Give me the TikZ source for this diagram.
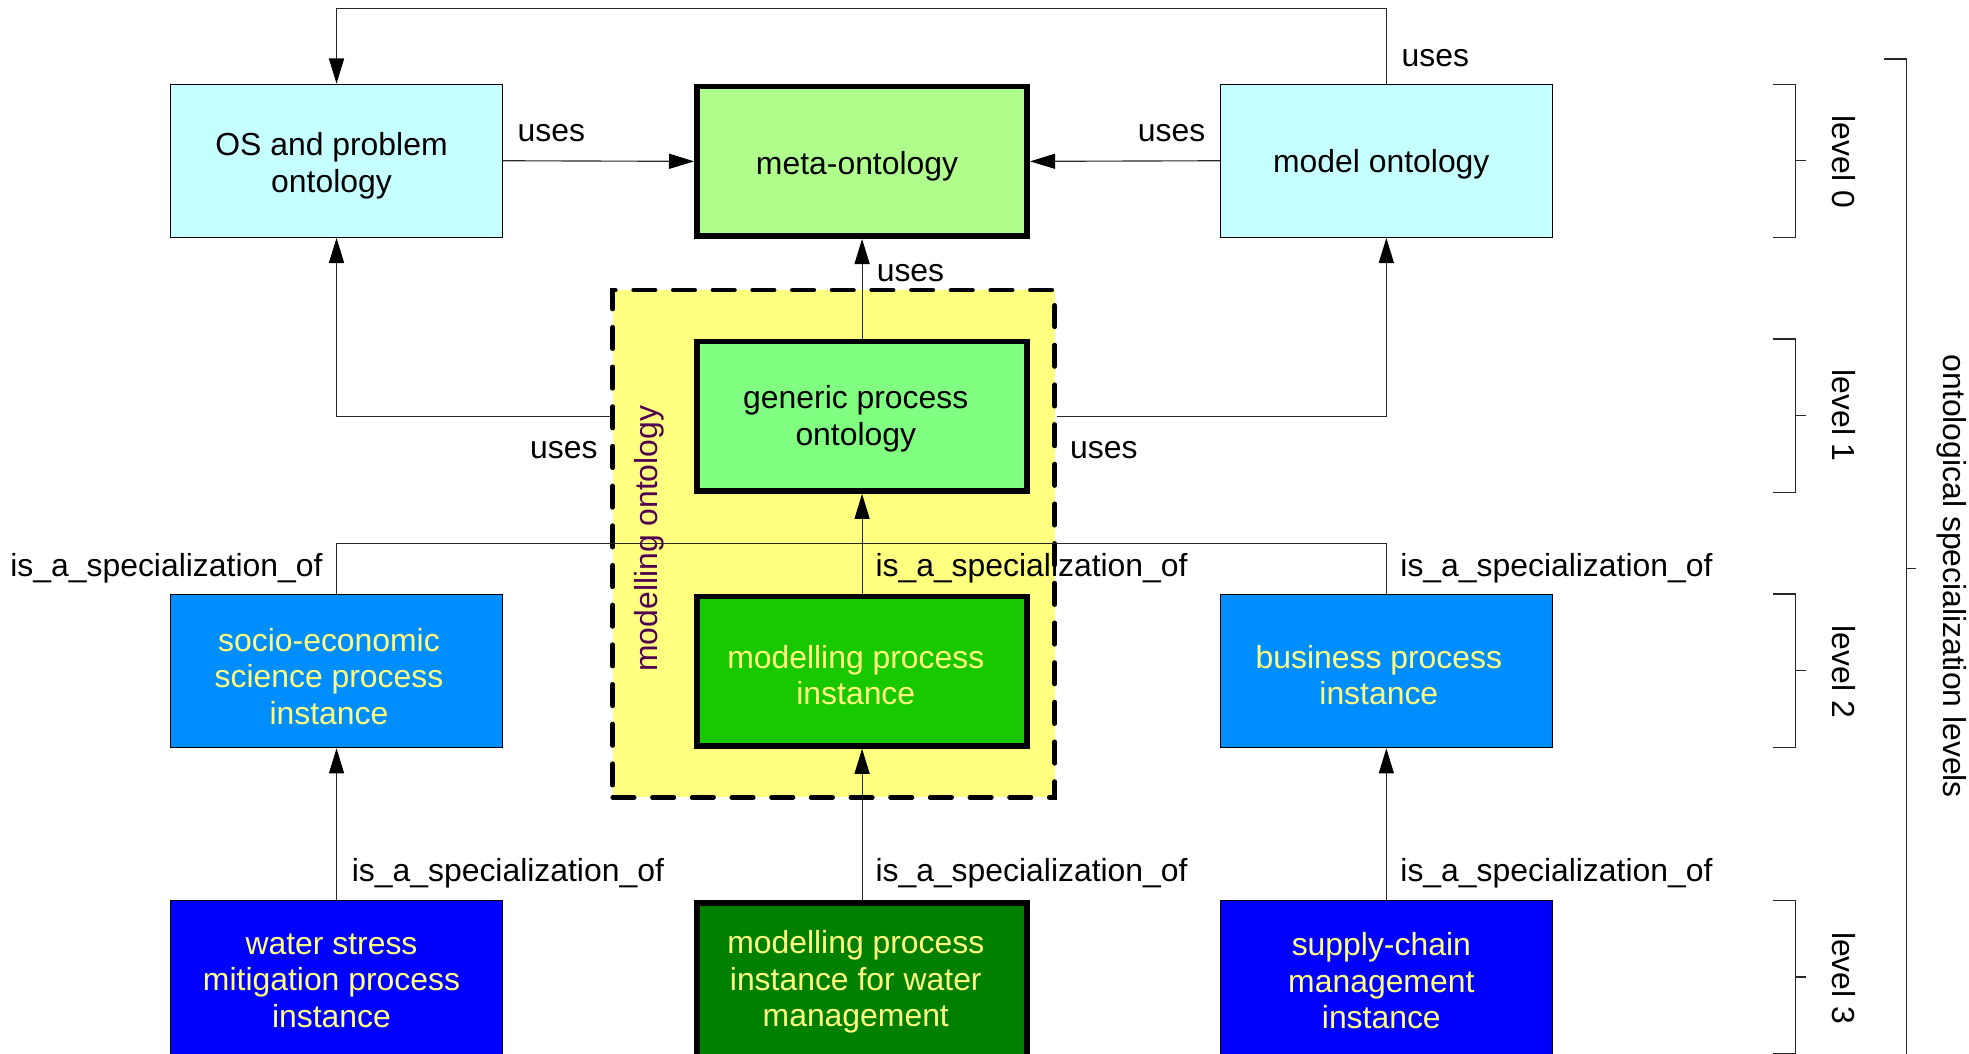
\documentclass[tikz,border=0pt]{standalone}
\usepackage{fontspec}
\setmainfont{Liberation Sans}
\usetikzlibrary{arrows.meta}

\definecolor{cyanbox}{RGB}{198,255,255}
\definecolor{metagreen}{RGB}{176,255,140}
\definecolor{genericgreen}{RGB}{128,255,128}
\definecolor{instgreen}{RGB}{24,200,0}
\definecolor{darkgreen}{RGB}{0,128,0}
\definecolor{skyblue}{RGB}{0,142,255}
\definecolor{pureblue}{RGB}{0,0,255}
\definecolor{paleyellow}{RGB}{255,255,128}
\definecolor{textyellow}{RGB}{255,255,128}
\definecolor{purpletext}{RGB}{80,0,80}
\definecolor{linegray}{RGB}{40,40,40}

\begin{document}
\begin{tikzpicture}[x=1pt,y=-1pt,
  every node/.style={font=\fontsize{25.4}{29}\selectfont},
  box/.style={draw=black, line width=0.9pt, minimum width=264pt, minimum height=122pt, inner sep=0pt},
  lowbox/.style={box, minimum height=128pt},
  heavybox/.style={draw=black, line width=4.5pt, minimum width=263pt, minimum height=119pt, inner sep=0pt},
  lowheavy/.style={heavybox, minimum height=124pt},
  txt/.style={align=center, inner sep=0pt},
  lbl/.style={inner sep=0pt},
  conn/.style={draw=linegray, line width=0.9pt},
  arr/.style={conn, -{Triangle[length=20pt,width=12pt,color=black]}},
  bracket/.style={draw=linegray, line width=0.9pt},
  groupbox/.style={draw=black, fill=paleyellow, line width=3.8pt, dash pattern=on 17pt off 14.6pt, line cap=round, inner sep=0pt}
]
\useasboundingbox (0,0) rectangle (1568,839);
\begin{scope}
\clip (0,0) rectangle (1568,839);

% modelling ontology group
\node[groupbox, minimum width=352pt, minimum height=404pt] (modont) at (664,433) {};
\node[rotate=90, text=purpletext, inner sep=0pt] (modont-t) at (517,429) {modelling ontology};

% level 0
\node[box, fill=cyanbox] (os) at (268,128) {};
\node[heavybox, fill=metagreen] (meta) at (686.5,128.5) {};
\node[box, fill=cyanbox] (model) at (1104,128) {};
% level 1
\node[heavybox, fill=genericgreen] (generic) at (686.5,331.5) {};
% level 2
\node[box, fill=skyblue] (socio) at (268,534.5) {};
\node[heavybox, fill=instgreen] (mpi) at (686.5,534.5) {};
\node[box, fill=skyblue] (business) at (1104,534.5) {};
% level 3
\node[lowbox, fill=pureblue] (water) at (268,781) {};
\node[lowheavy, fill=darkgreen] (mpiw) at (686.5,781) {};
\node[lowbox, fill=pureblue] (supply) at (1104,781) {};

% box texts
\node[txt] (os-t) at ([shift={(-4pt,-4pt)}]os.center) {OS and problem\\ontology};
\node[txt] (meta-t) at ([shift={(-4pt,-4pt)}]meta.center) {meta-ontology};
\node[txt] (model-t) at ([shift={(-4pt,-3pt)}]model.center) {model ontology};
\node[txt] (generic-t) at ([shift={(-5pt,-2pt)}]generic.center) {generic process\\ontology};
\node[txt, text=textyellow] (socio-t) at ([shift={(-6pt,-4pt)}]socio.center) {socio-economic\\science process\\instance};
\node[txt, text=textyellow] (mpi-t) at ([shift={(-5pt,-3pt)}]mpi.center) {modelling process\\instance};
\node[txt, text=textyellow] (business-t) at ([shift={(-6pt,-3pt)}]business.center) {business process\\instance};
\node[txt, text=textyellow] (water-t) at ([shift={(-4pt,0pt)}]water.center) {water stress\\mitigation process\\instance};
\node[txt, text=textyellow] (mpiw-t) at ([shift={(-5pt,-1pt)}]mpiw.center) {modelling process\\instance for water\\management};
\node[txt, text=textyellow] (supply-t) at ([shift={(-4pt,0pt)}]supply.center) {supply-chain\\management\\instance};

% "uses" connectors
\draw[arr] (os.east) -- (meta.west);
\draw[arr] (model.west) -- (meta.east);
\draw[arr] (model.north) -- ++(0,-60) -| (os.north);
\draw[arr] (generic.north) -- (meta.south);
\draw[arr] (modont.west |- generic.center) -| (os.south);
\draw[arr] (modont.east |- generic.center) -| (model.south);

% specialization connectors
\coordinate (junc) at (686.5,433);
\draw[conn] (socio.north) |- (junc);
\draw[conn] (business.north) |- (junc);
\draw[arr] (mpi.north) -- (generic.south);
\draw[arr] (water.north) -- (socio.south);
\draw[arr] (mpiw.north) -- (mpi.south);
\draw[arr] (supply.north) -- (business.south);

% connector labels
\node[lbl, anchor=base west] (u1) at (412,113) {uses};
\node[lbl, anchor=base east] (u2) at (960,113) {uses};
\node[lbl, anchor=base west] (u3) at (1116,53) {uses};
\node[lbl, anchor=base west] (u4) at (698,224) {uses};
\node[lbl, anchor=base east] (u5) at (476,365) {uses};
\node[lbl, anchor=base west] (u6) at (852,365) {uses};
\node[lbl, anchor=base east] (s1) at (257,459) {is\_a\_specialization\_of};
\node[lbl, anchor=base west] (s2) at (697,459) {is\_a\_specialization\_of};
\node[lbl, anchor=base west] (s3) at (1115,459) {is\_a\_specialization\_of};
\node[lbl, anchor=base west] (s4) at (280,702) {is\_a\_specialization\_of};
\node[lbl, anchor=base west] (s5) at (697,702) {is\_a\_specialization\_of};
\node[lbl, anchor=base west] (s6) at (1115,702) {is\_a\_specialization\_of};

% level brackets
\draw[bracket] (1412,67) -- (1430,67) -- (1430,189) -- (1412,189);
\draw[bracket] (1430,128) -- (1438,128);
\draw[bracket] (1412,270) -- (1430,270) -- (1430,392) -- (1412,392);
\draw[bracket] (1430,331) -- (1438,331);
\draw[bracket] (1412,473) -- (1430,473) -- (1430,595) -- (1412,595);
\draw[bracket] (1430,534) -- (1438,534);
\draw[bracket] (1412,717) -- (1430,717) -- (1430,839) -- (1412,839);
\draw[bracket] (1430,778) -- (1438,778);
\draw[bracket] (1500,47) -- (1518,47) -- (1518,870);
\draw[bracket] (1518,453) -- (1526,453);

\node[rotate=-90, inner sep=0pt] (lv0) at (1468,129) {level 0};
\node[rotate=-90, inner sep=0pt] (lv1) at (1468,331) {level 1};
\node[rotate=-90, inner sep=0pt] (lv2) at (1468,535) {level 2};
\node[rotate=-90, inner sep=0pt] (lv3) at (1468,779) {level 3};
\node[rotate=-90, inner sep=0pt] (lvall) at (1554,459) {ontological specialization levels};
\end{scope}
\end{tikzpicture}
\end{document}
